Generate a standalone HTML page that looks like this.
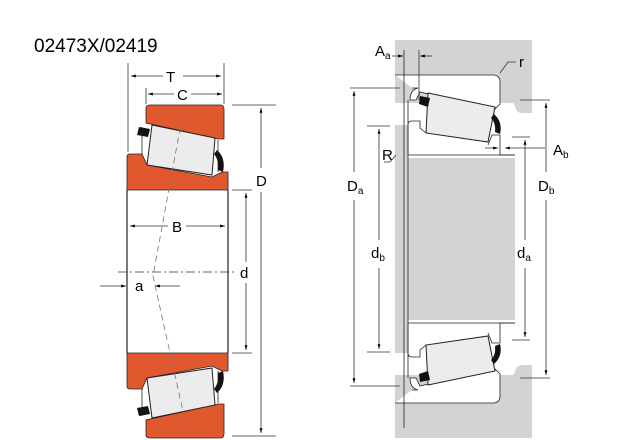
<!DOCTYPE html>
<html><head><meta charset="utf-8"><style>
html,body{margin:0;padding:0;background:#fff;}
svg{display:block;font-family:"Liberation Sans",sans-serif;}
</style></head><body>
<svg width="640" height="440" viewBox="0 0 640 440" xmlns="http://www.w3.org/2000/svg">
<defs>
<marker id="ar" viewBox="0 0 10 10" refX="10" refY="5" markerWidth="6" markerHeight="6" orient="auto-start-reverse"><path d="M0,2 L10,5 L0,8 z" fill="#000"/></marker>
<g id="lhalf">
 <path d="M146,108 Q146,105 150,105 L220,105 Q224,105 224,109 L224,139 L218,139 L146,123 Z" fill="#e2582e" stroke="#222" stroke-width="0.8"/>
 <path d="M127,157 Q127,154 130,154 L142,154 L147,165 L212,177 L222,172 L228,172 L228,190 L127,190 Z" fill="#e2582e" stroke="#222" stroke-width="0.8"/>
 <path d="M152,125 L215,138 L212,175 L147,165 Z" fill="#ececec" stroke="#222" stroke-width="1"/>
 <path d="M139,127 L150,129 L148,137 L137,135 Z" fill="#111"/>
 <path d="M217,150 Q226,158 223,172 L218,170 Q219,160 214,154 Z" fill="#111"/>
 <line x1="142" y1="127" x2="142" y2="154" stroke="#222" stroke-width="0.8"/>
 <line x1="218" y1="140" x2="218" y2="172" stroke="#222" stroke-width="0.8"/>
</g>
<g id="rhalf">
 <rect x="395" y="40" width="137" height="63" fill="#d3d3d3"/>
 <path d="M500,100 L532,100 L532,113 L522,113 Q516,113 515,106 Q512,100 505,100 Z" fill="#d3d3d3"/>
 <rect x="395" y="125" width="13" height="114" fill="#d3d3d3"/>
 <rect x="408" y="155" width="107" height="84" fill="#d3d3d3"/>
 <path d="M395,75 L493,75 Q500,75 500,82 L500,104 L494,110 L420,92 L416,100 L410,100 Q410,90 418,88 L412,88" fill="#fff" stroke="#222" stroke-width="0.8"/>
 <path d="M408,121 L420,121 L420,128 L426,133 L488,145 L492,135 L500,135 L500,155 L515,155 L515,158 L408,158 Z" fill="#fff" stroke="none"/>
 <path d="M408,155 L408,125 Q408,121 412,121 L420,121 L420,128 L426,133 M488,145 L492,135 L500,135 L500,155 L515,155" fill="none" stroke="#222" stroke-width="0.8"/>
 <line x1="408" y1="155" x2="515" y2="155" stroke="#222" stroke-width="0.8"/>
 <path d="M428,93 L495,107 L488,142 L426,133 Z" fill="#ececec" stroke="#222" stroke-width="1"/>
 <path d="M420,96 L430,98 L428,107 L419,104 Z" fill="#111"/>
 <path d="M494,114 Q503,122 500,134 L495,132 Q496,123 491,118 Z" fill="#111"/>
 <line x1="404" y1="50" x2="404" y2="239" stroke="#222" stroke-width="0.8"/>
 <line x1="408" y1="100" x2="408" y2="239" stroke="#222" stroke-width="0.8"/>
</g>
</defs>

<text x="34" y="52" font-size="19" fill="#000">02473X/02419</text>

<!-- left bearing -->
<use href="#lhalf"/>
<use href="#lhalf" transform="matrix(1,0,0,-1,0,543)"/>
<line x1="127" y1="190" x2="127" y2="353" stroke="#222" stroke-width="1.2"/>
<line x1="228" y1="190" x2="228" y2="353" stroke="#222" stroke-width="1.2"/>
<g stroke="#333" stroke-width="0.8" fill="none">
 <line x1="128" y1="63" x2="128" y2="152"/>
 <line x1="224" y1="63" x2="224" y2="104"/>
 <line x1="146" y1="88" x2="146" y2="104"/>
 <line x1="131" y1="76" x2="163" y2="76" marker-start="url(#ar)"/>
 <line x1="183" y1="76" x2="221" y2="76" marker-end="url(#ar)"/>
 <line x1="148" y1="94" x2="174" y2="94" marker-start="url(#ar)"/>
 <line x1="191" y1="94" x2="222" y2="94" marker-end="url(#ar)"/>
 <line x1="232" y1="105" x2="276" y2="105"/>
 <line x1="232" y1="436" x2="276" y2="436"/>
 <line x1="261" y1="108" x2="261" y2="168" marker-start="url(#ar)"/>
 <line x1="261" y1="192" x2="261" y2="433" marker-end="url(#ar)"/>
 <line x1="232" y1="190" x2="252" y2="190"/>
 <line x1="232" y1="353" x2="252" y2="353"/>
 <line x1="246" y1="193" x2="246" y2="262" marker-start="url(#ar)"/>
 <line x1="246" y1="283" x2="246" y2="350" marker-end="url(#ar)"/>
 <line x1="130" y1="226" x2="168" y2="226" marker-start="url(#ar)"/>
 <line x1="186" y1="226" x2="225" y2="226" marker-end="url(#ar)"/>
 <line x1="100" y1="286" x2="126" y2="286" marker-end="url(#ar)"/>
 <line x1="180" y1="286" x2="155" y2="286" marker-end="url(#ar)"/>
 <line x1="118" y1="272" x2="237" y2="272" stroke-dasharray="9,3,2,3"/>
 <polyline points="182,118 153,276 186,425" stroke-dasharray="6,4" stroke="#777"/>
</g>
<g font-size="15" fill="#000">
 <text x="166" y="82">T</text>
 <text x="177" y="100">C</text>
 <text x="256" y="186">D</text>
 <text x="240" y="278">d</text>
 <text x="172" y="232">B</text>
 <text x="135" y="291">a</text>
</g>

<!-- right bearing -->
<use href="#rhalf"/>
<use href="#rhalf" transform="matrix(1,0,0,-1,0,478)"/>
<g stroke="#333" stroke-width="0.8" fill="none">
 <line x1="419" y1="50" x2="419" y2="100"/>
 <line x1="392" y1="56" x2="403" y2="56" marker-end="url(#ar)"/>
 <line x1="432" y1="56" x2="420" y2="56" marker-end="url(#ar)"/>
 <path d="M500,73 L508,62 L516,62"/>
 <line x1="350" y1="88" x2="400" y2="88"/>
 <line x1="350" y1="386" x2="400" y2="386"/>
 <line x1="354" y1="91" x2="354" y2="172" marker-start="url(#ar)"/>
 <line x1="354" y1="200" x2="354" y2="383" marker-end="url(#ar)"/>
 <line x1="367" y1="126" x2="390" y2="126"/>
 <line x1="367" y1="352" x2="390" y2="352"/>
 <line x1="379" y1="129" x2="379" y2="240" marker-start="url(#ar)"/>
 <line x1="379" y1="268" x2="379" y2="349" marker-end="url(#ar)"/>
 <path d="M384,162 L390,162 L396,155"/>
 <line x1="520" y1="100" x2="550" y2="100"/>
 <line x1="520" y1="378" x2="550" y2="378"/>
 <line x1="546" y1="103" x2="546" y2="172" marker-start="url(#ar)"/>
 <line x1="546" y1="200" x2="546" y2="375" marker-end="url(#ar)"/>
 <line x1="512" y1="137" x2="530" y2="137"/>
 <line x1="512" y1="340" x2="530" y2="340"/>
 <line x1="525" y1="140" x2="525" y2="240" marker-start="url(#ar)"/>
 <line x1="525" y1="268" x2="525" y2="337" marker-end="url(#ar)"/>
 <line x1="545" y1="148" x2="505" y2="148" marker-end="url(#ar)"/>
 <line x1="485" y1="148" x2="498" y2="148" marker-end="url(#ar)"/>
</g>
<g font-size="15" fill="#000">
 <text x="375" y="56">A<tspan font-size="10" dy="3">a</tspan></text>
 <text x="519" y="67">r</text>
 <text x="553" y="155">A<tspan font-size="10" dy="3">b</tspan></text>
 <text x="382" y="160">R</text>
 <text x="347" y="191">D<tspan font-size="10" dy="3">a</tspan></text>
 <text x="538" y="191">D<tspan font-size="10" dy="3">b</tspan></text>
 <text x="371" y="258">d<tspan font-size="10" dy="3">b</tspan></text>
 <text x="517" y="258">d<tspan font-size="10" dy="3">a</tspan></text>
</g>
</svg>
</body></html>
